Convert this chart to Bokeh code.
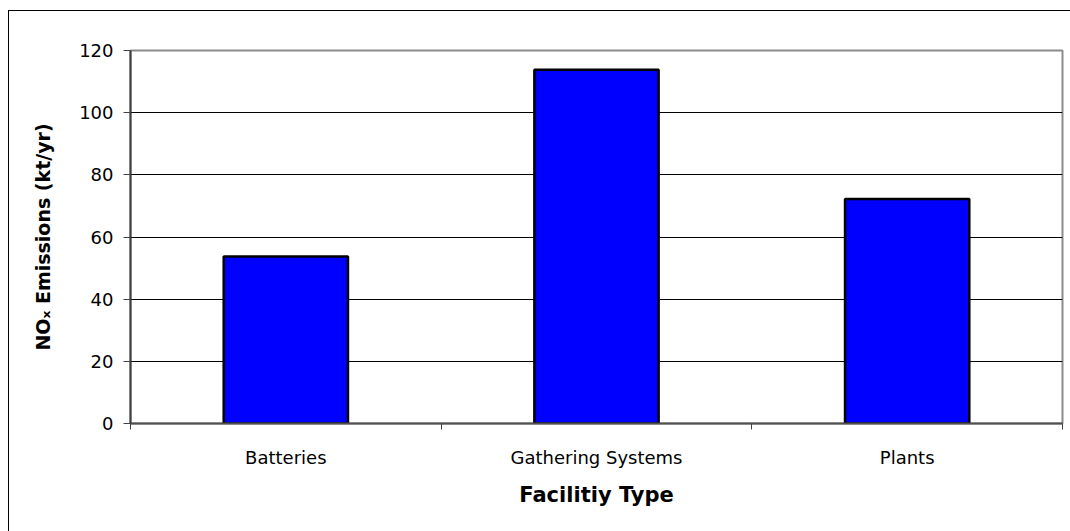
from bokeh.plotting import figure
from bokeh.models import FixedTicker, ColumnDataSource, Range1d
from bokeh.embed import file_html
from bokeh.resources import INLINE

categories = ["Batteries", "Gathering Systems", "Plants"]
emissions = [53.7, 113.8, 72.2]
y_ticks = [0, 20, 40, 60, 80, 100, 120]
grid_ticks = [20, 40, 60, 80, 100]

centers = [i + 0.5 for i in range(len(categories))]
bounds = [float(i) for i in range(len(categories) + 1)]

src = ColumnDataSource(dict(x=centers, top=emissions, cat=categories))

p = figure(width=1062, height=521, output_backend="svg", toolbar_location=None,
           x_range=Range1d(0, len(categories)), y_range=Range1d(0, 120),
           min_border_left=121, min_border_right=9, min_border_top=39, min_border_bottom=109,
           margin=(10, 0, 0, 8),
           styles={"border-left": "1px solid black", "border-top": "1px solid black"})
p.background_fill_color = "white"
p.border_fill_color = "white"
p.outline_line_color = "#8c8c8c"
p.outline_line_width = 2

p.vbar(x="x", top="top", width=0.4, source=src, fill_color="#0000FF",
       line_color="black", line_width=2.5)

FONT = "DejaVu Sans"

# y axis
ya = p.yaxis[0]
ya.ticker = FixedTicker(ticks=y_ticks)
ya.axis_line_color = "#404040"
ya.axis_line_width = 2
ya.major_tick_out = 7
ya.major_tick_in = 0
ya.major_tick_line_color = "#404040"
ya.minor_tick_line_color = None
ya.major_label_text_font = FONT
ya.major_label_text_font_size = "18px"
ya.major_label_text_color = "black"
ya.major_label_standoff = 10
ya.axis_label = "NO\u2093 Emissions (kt/yr)"
ya.axis_label_text_font = FONT
ya.axis_label_text_font_style = "bold"
ya.axis_label_text_font_size = "19px"
ya.axis_label_text_color = "black"
ya.axis_label_standoff = 22

# x axis
xa = p.xaxis[0]
xa.ticker = FixedTicker(ticks=centers, minor_ticks=bounds)
xa.major_label_overrides = {c: n for c, n in zip(centers, categories)}
xa.axis_line_color = "#505050"
xa.axis_line_width = 2
xa.major_tick_line_color = None
xa.major_tick_out = 0
xa.major_tick_in = 0
xa.minor_tick_line_color = "#404040"
xa.minor_tick_out = 6
xa.minor_tick_in = 0
xa.major_label_text_font = FONT
xa.major_label_text_font_size = "18px"
xa.major_label_text_color = "black"
xa.major_label_standoff = 17
xa.axis_label = "Facilitiy Type"
xa.axis_label_text_font = FONT
xa.axis_label_text_font_style = "bold"
xa.axis_label_text_font_size = "21px"
xa.axis_label_text_color = "black"
xa.axis_label_standoff = 12

p.xgrid.visible = False
p.ygrid.ticker = FixedTicker(ticks=grid_ticks)
p.ygrid.grid_line_color = "black"
p.ygrid.grid_line_width = 1

open("out.html", "w").write(file_html(p, INLINE))
